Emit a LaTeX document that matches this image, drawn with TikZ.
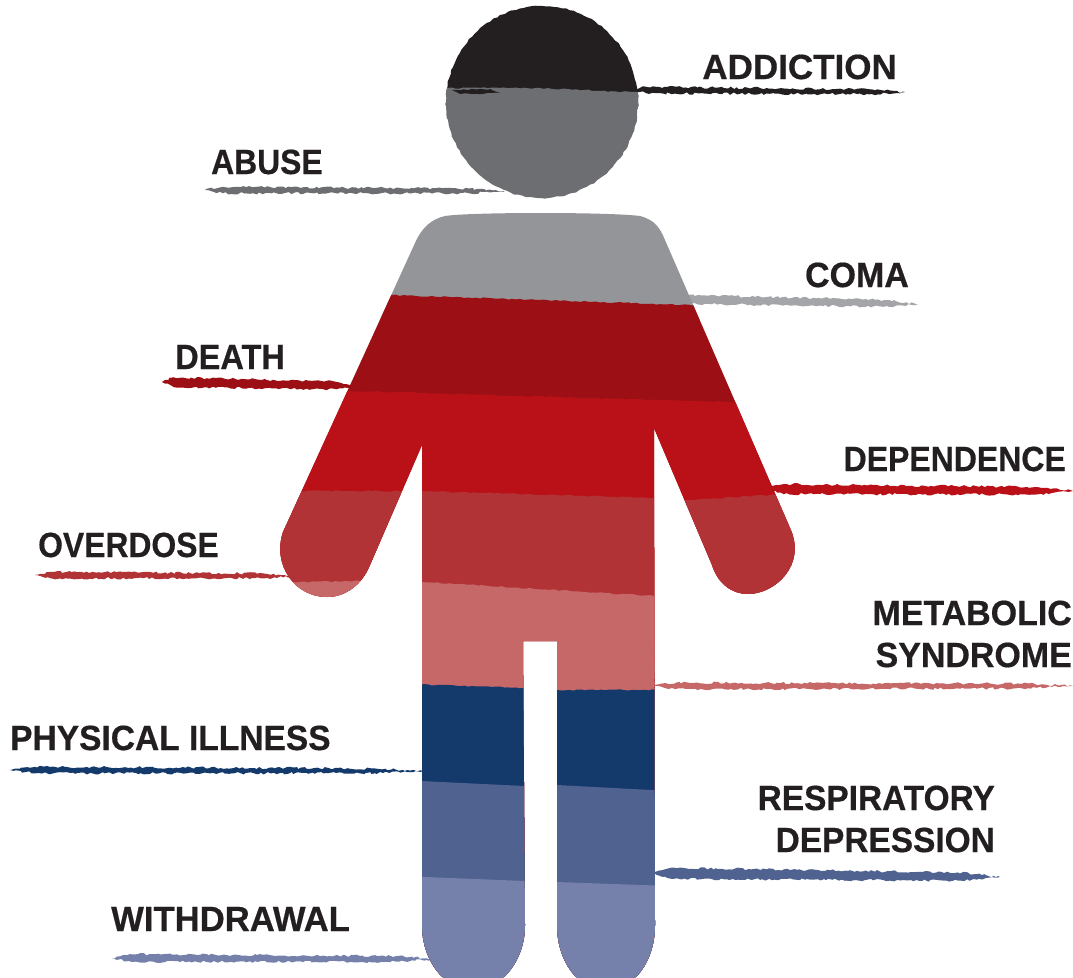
\documentclass[tikz,border=0pt]{standalone}
\usepackage{fontspec}
\setmainfont{Liberation Sans}[BoldFeatures={FakeBold=0.5}]
\usetikzlibrary{calc,decorations.pathmorphing}
\definecolor{inkBlack}{HTML}{231F20}
\definecolor{headGray}{HTML}{6D6E71}
\definecolor{chestGray}{HTML}{939598}
\definecolor{deepRed}{HTML}{9C1015}
\definecolor{brightRed}{HTML}{BA1118}
\definecolor{midRed}{HTML}{B13335}
\definecolor{paleRed}{HTML}{C76868}
\definecolor{deepBlue}{HTML}{14396B}
\definecolor{midBlue}{HTML}{4F6290}
\definecolor{paleBlue}{HTML}{7581AB}
\tikzset{
  rough/.style={decorate,decoration={random steps,segment length=4pt,amplitude=0.7pt}},
  rougher/.style={decorate,decoration={random steps,segment length=3pt,amplitude=1.2pt}},
  risk/.style={font=\fontsize{35}{42}\selectfont\bfseries,text=inkBlack,inner sep=0pt,transform shape,xscale=#1},
  risk/.default=1
}
% tapered brush stroke between two named coordinates
\newcommand{\brushline}[4]{%
  \fill[#3,rougher] (#1) -- ($(#1)!0.06!(#2)+(0,-#4)$) -- ($(#1)!0.88!(#2)+(0,-#4*0.75)$)
    -- (#2) -- ($(#1)!0.88!(#2)+(0,#4*0.75)$) -- ($(#1)!0.06!(#2)+(0,#4)$) -- cycle;}
\begin{document}
\begin{tikzpicture}[x=1pt,y=-1pt]
  \useasboundingbox (0,0) rectangle (1073,977);
  \pgfmathsetseed{7}

  % Leader strokes
  \coordinate (addictionA) at (630,90);   \coordinate (addictionB) at (905,92);
  \coordinate (abuseA) at (205,190);      \coordinate (abuseB) at (505,191);
  \coordinate (comaA) at (675,299);       \coordinate (comaB) at (918,304);
  \coordinate (deathA) at (162,382);      \coordinate (deathB) at (360,386);
  \coordinate (dependA) at (765,489);     \coordinate (dependB) at (1073,491);
  \coordinate (overdoseA) at (35,575);    \coordinate (overdoseB) at (295,576);
  \coordinate (metabolicA) at (650,686);  \coordinate (metabolicB) at (1073,686);
  \coordinate (physicalA) at (10,770);    \coordinate (physicalB) at (425,771);
  \coordinate (respA) at (650,873);       \coordinate (respB) at (1000,877);
  \coordinate (withdrawA) at (112,958);   \coordinate (withdrawB) at (435,959);
  \brushline{addictionA}{addictionB}{inkBlack}{3.2}
  \brushline{abuseA}{abuseB}{headGray}{3.2}
  \brushline{comaA}{comaB}{chestGray!85}{4.5}
  \brushline{deathA}{deathB}{deepRed}{5}
  \brushline{dependA}{dependB}{brightRed}{5}
  \brushline{overdoseA}{overdoseB}{midRed}{3.2}
  \brushline{metabolicA}{metabolicB}{paleRed}{3.2}
  \brushline{physicalA}{physicalB}{deepBlue}{3.2}
  \brushline{respA}{respB}{midBlue}{5.5}
  \brushline{withdrawA}{withdrawB}{paleBlue}{3.8}

  % Head
  \begin{scope}
    \clip[rough] (542,102) circle (96);
    \fill[inkBlack] (440,0) rectangle (650,110);
    \fill[headGray,rough] (440,88) -- (540,88) -- (650,93) -- (650,205) -- (440,205) -- cycle;
    \fill[inkBlack,rough] (452,90) -- (490,89) -- (500,93) -- (460,94) -- cycle;
  \end{scope}

  % Body
  \begin{scope}
    \clip (445,216) .. controls (470,212) and (610,212) .. (640,216)
      .. controls (655,220) and (660,228) .. (665,240) -- (790,528)
      .. controls (807,565) and (775,594) .. (748,594)
      .. controls (732,594) and (718,584) .. (712,565) -- (654,428)
      -- (655,925) .. controls (655,960) and (635,990) .. (606,990)
      .. controls (577,990) and (557,960) .. (557,925) -- (557,641) -- (523,641)
      -- (525,925) .. controls (525,960) and (502,990) .. (473,990)
      .. controls (444,990) and (422,960) .. (422,925) -- (422,445)
      -- (370,565) .. controls (362,585) and (345,597) .. (327,597)
      .. controls (295,597) and (272,565) .. (283,532) -- (415,243)
      .. controls (422,227) and (432,219) .. (445,216) -- cycle;
    \fill[chestGray] (260,200) rectangle (810,320);
    \fill[deepRed,rough] (260,290) -- (392,295) -- (690,305) -- (810,308) -- (810,977) -- (260,977) -- cycle;
    \fill[brightRed,rough] (260,390) -- (350,391) -- (730,402) -- (810,403) -- (810,977) -- (260,977) -- cycle;
    \fill[midRed,rough] (260,491) -- (422,491) -- (654,498) -- (690,500) -- (770,495) -- (810,495) -- (810,977) -- (260,977) -- cycle;
    \fill[paleRed,rough] (260,583) -- (360,581) -- (422,582) -- (654,596) -- (660,977) -- (260,977) -- cycle;
    \fill[deepBlue,rough] (400,684) -- (525,688) -- (557,690) -- (670,690) -- (670,977) -- (400,977) -- cycle;
    \fill[midBlue] (400,780) -- (525,786) -- (557,785) -- (670,791) -- (670,977) -- (400,977) -- cycle;
    \fill[paleBlue] (400,876) -- (525,881) -- (557,882) -- (670,886) -- (670,990) -- (400,990) -- cycle;
  \end{scope}

  % Labels
  \node[risk,anchor=base east] (addiction) at (897,79) {ADDICTION};
  \node[risk=0.91,anchor=base west] (abuse) at (211,174) {ABUSE};
  \node[risk=0.97,anchor=base east] (coma) at (909,287) {COMA};
  \node[risk=0.93,anchor=base west] (death) at (175,369) {DEATH};
  \node[risk=0.914,anchor=base east] (dependence) at (1066,471) {DEPENDENCE};
  \node[risk=0.91,anchor=base west] (overdose) at (38,557) {OVERDOSE};
  \node[risk=0.97,anchor=east,align=right] (metabolic) at (1072,634) {METABOLIC\\SYNDROME};
  \node[risk=0.958,anchor=base west] (physical) at (10,750) {PHYSICAL ILLNESS};
  \node[risk=0.955,anchor=east,align=right] (respiratory) at (995,819) {RESPIRATORY\\DEPRESSION};
  \node[risk=0.99,anchor=base west] (withdrawal) at (111,931) {WITHDRAWAL};
\end{tikzpicture}
\end{document}
